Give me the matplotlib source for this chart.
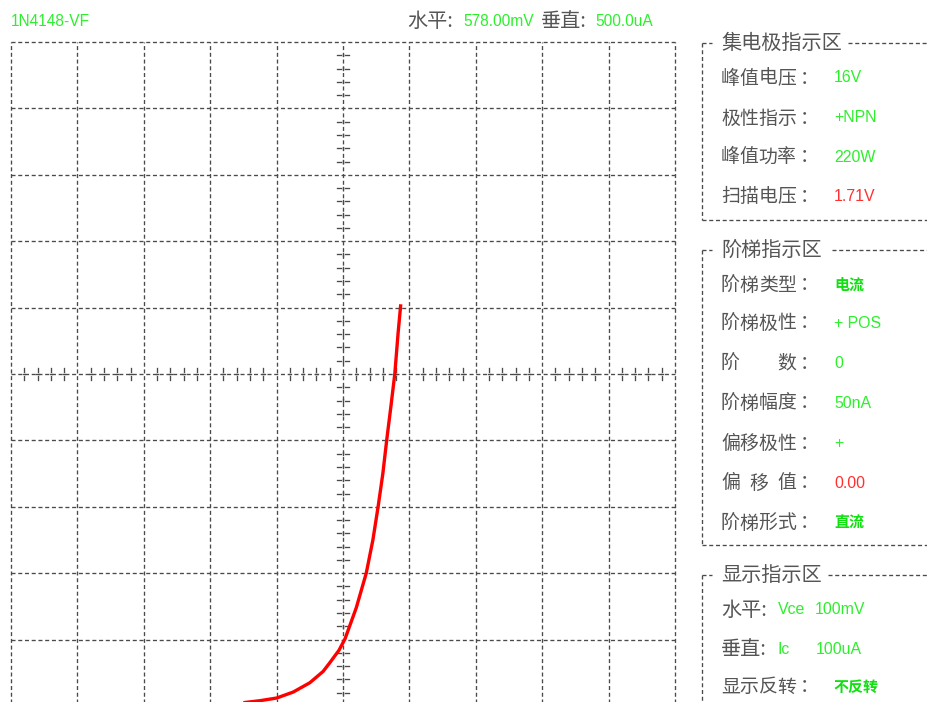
import matplotlib
matplotlib.use("Agg")
import matplotlib.pyplot as plt
from matplotlib.lines import Line2D

plt.rcParams["font.family"] = ["Noto Sans CJK SC", "DejaVu Sans"]
plt.rcParams["lines.scale_dashes"] = False

# ---- forward I-V trace of the diode (mV, uA) ----
vf_mv = [350, 375, 400, 425, 450, 470, 480, 494, 503, 520, 535, 545, 553,
         560, 566, 572, 578, 583, 587]
if_ua = [5, 8, 12, 21, 35, 52, 65, 84, 101, 148, 200, 250, 301,
         350, 402, 450, 500, 562, 605]

x_per_div = 100   # mV / div
y_per_div = 100   # uA / div
n_div = 10

device_name = "1N4148-VF"
cursor_h = "578.00mV"
cursor_v = "500.0uA"

collector_title = "集电极指示区"
collector_labels = ["峰值电压", "极性指示", "峰值功率", "扫描电压"]
collector_values = ["16V", "+NPN", "220W", "1.71V"]
collector_kinds = ["g", "g", "g", "r"]

step_title = "阶梯指示区"
step_labels = ["阶梯类型", "阶梯极性", "阶数", "阶梯幅度", "偏移极性", "偏移值", "阶梯形式"]
step_values = ["电流", "+ POS", "0", "50nA", "+", "0.00", "直流"]
step_kinds = ["gc", "g", "g", "g", "g", "r", "gc"]

display_title = "显示指示区"
display_h = ("Vce", "100mV")
display_v = ("Ic", "100uA")
display_inv_label = "显示反转"
display_inv_value = "不反转"

# ---- styling ----
W, H = 928, 702
GRAY_TXT = "#555555"
GRID = "#4a4a4a"
GREEN = "#2cf02c"
GREEN_CJK = "#10e010"
RED = "#ff3030"
DASH = (0, (2.9, 1.95))
LW = 0.95
LAT = ["Liberation Sans", "DejaVu Sans"]
CJK = ["Noto Sans CJK SC", "DejaVu Sans"]

fig = plt.figure(figsize=(W / 100, H / 100), dpi=100)
fig.patch.set_facecolor("white")


def fx(px):
    return px / W


def fy(py):
    return 1 - py / H


def fline(x0, y0, x1, y1):
    fig.add_artist(Line2D([fx(x0), fx(x1)], [fy(y0), fy(y1)],
                          transform=fig.transFigure, color=GRID, lw=LW,
                          ls=DASH))


def ftext(px, py, s, color, size, family, weight="normal", ha="left"):
    fig.text(fx(px), fy(py), s, color=color, fontsize=size, family=family,
             weight=weight, ha=ha, va="center")


# ---- scope screen ----
left, top, span = 11, 42, 664
ax = fig.add_axes([fx(left), fy(top + span), span / W, span / H])
xmax = n_div * x_per_div
ymax = n_div * y_per_div
ax.set_xlim(0, xmax)
ax.set_ylim(0, ymax)
ax.axis("off")

for i in range(n_div + 1):
    ax.axvline(i * x_per_div, color=GRID, lw=LW, ls=DASH, clip_on=False)
    ax.axhline(i * y_per_div, color=GRID, lw=LW, ls=DASH, clip_on=False)

# minor ticks along the centre crosshair: a short broken bar on each side
cx, cy = xmax / 2, ymax / 2
px_x = x_per_div * n_div / span   # data units per pixel
px_y = y_per_div * n_div / span
n_minor = 5
for k in range(n_div * n_minor + 1):
    if k % n_minor == 0:
        continue
    yv = k * y_per_div / n_minor
    xv = k * x_per_div / n_minor
    for sgn in (-1, 1):
        ax.plot([cx + sgn * 2 * px_x, cx + sgn * 6 * px_x], [yv, yv],
                color=GRID, lw=LW)
        ax.plot([xv, xv], [cy + sgn * 2 * px_y, cy + sgn * 6 * px_y],
                color=GRID, lw=LW)
    ax.plot([cx, cx], [yv - 1.2 * px_y, yv + 1.2 * px_y], color=GRID, lw=LW)
    ax.plot([xv - 1.2 * px_x, xv + 1.2 * px_x], [cy, cy], color=GRID, lw=LW)

ax.plot(vf_mv, if_ua, color="#ff0000", lw=2.4, solid_capstyle="butt",
        clip_on=False, zorder=5)

# ---- header ----
ftext(11, 21, device_name, GREEN, 11.2, LAT)
ftext(407, 21, "水平:", GRAY_TXT, 14.5, CJK)
ftext(463, 21, cursor_h, GREEN, 11.2, LAT)
ftext(541, 21, "垂直:", GRAY_TXT, 14.5, CJK)
ftext(595, 21, cursor_v, GREEN, 11.2, LAT)

# ---- side panel ----
LBL_X, LBL_SPAN, COLON_X, VAL_X = 721, 56.5, 800, 834


def label(py, s):
    n = len(s)
    for i, ch in enumerate(s):
        xp = LBL_X + (LBL_SPAN * i / (n - 1) if n > 1 else 0)
        ftext(xp, py, ch, GRAY_TXT, 13.6, CJK)
    ftext(COLON_X, py, "：", GRAY_TXT, 13.6, CJK)


def value(py, s, kind):
    if kind == "r":
        ftext(VAL_X, py, s, RED, 11.4, LAT)
    elif kind == "gc":
        ftext(VAL_X, py, s, GREEN_CJK, 10.8, CJK, weight="bold")
    else:
        ftext(VAL_X, py, s, GREEN, 11.4, LAT)


def box(title_y, title_end, bottom_y):
    fline(702, title_y, 712, title_y)
    fline(title_end, title_y, W, title_y)
    fline(702, title_y, 702, bottom_y)
    if bottom_y < H:
        fline(702, bottom_y, W, bottom_y)


# collector group
box(43, 848, 220)
ftext(721, 43, collector_title, GRAY_TXT, 14.5, CJK)
for py, l, v, k in zip([78, 118, 157, 196], collector_labels,
                       collector_values, collector_kinds):
    label(py, l)
    value(py, v, k)

# step group
box(250, 832, 545)
ftext(721, 250, step_title, GRAY_TXT, 14.5, CJK)
for py, l, v, k in zip([285, 323, 363, 403, 443, 483, 523], step_labels,
                       step_values, step_kinds):
    label(py, l)
    value(py, v, k)

# display group
box(575, 828, H + 5)
ftext(721, 575, display_title, GRAY_TXT, 14.5, CJK)
ftext(721, 610, "水平:", GRAY_TXT, 14.5, CJK)
ftext(778, 610, display_h[0], GREEN, 11.4, LAT)
ftext(815, 610, display_h[1], GREEN, 11.4, LAT)
ftext(721, 650, "垂直:", GRAY_TXT, 14.5, CJK)
ftext(778, 650, display_v[0], GREEN, 11.4, LAT)
ftext(816, 650, display_v[1], GREEN, 11.4, LAT)
label(687, display_inv_label)
ftext(833, 687, display_inv_value, GREEN_CJK, 10.8, CJK, weight="bold")

fig.savefig("out.png", dpi=100, facecolor="white")
